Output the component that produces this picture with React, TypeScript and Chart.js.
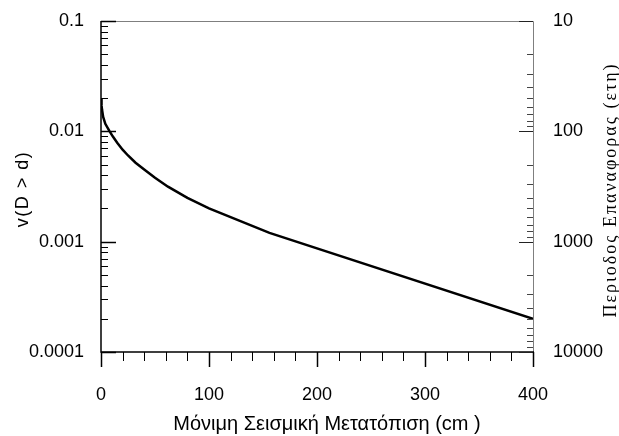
import React, { useEffect, useRef } from "react";
import { Chart, registerables } from "chart.js";

Chart.register(...registerables);

// Data
const displacementCm = [0, 0.5, 1, 2, 4, 8, 11, 15, 20, 25, 32, 40, 50, 62, 80, 100, 156, 400];
const exceedanceRate = [
  0.02, 0.0172, 0.0156, 0.0135, 0.0117, 0.01, 0.00897, 0.00788, 0.00682, 0.00604, 0.00519, 0.0045, 0.00379,
  0.00315, 0.00249, 0.002, 0.0012, 0.0002,
];

// Axis tick values / labels
const xMajorTicks = [0, 100, 200, 300, 400];
const xMinorStep = 20;
const yMajorTicks = [0.0001, 0.001, 0.01, 0.1];
const yMajorLabels = ["0.0001", "0.001", "0.01", "0.1"];
const y2MajorTicks = [10, 100, 1000, 10000];
const y2MajorLabels = ["10", "100", "1000", "10000"];

const xTitle = "Μόνιμη Σεισμική Μετατόπιση (cm )";
const yTitle = "v(D > d)";
const y2Title = "Περιοδος Επαναφορας (ετη)";

const SANS = "'Liberation Sans', Arial, sans-serif";
const SERIF = "'Liberation Serif', 'Times New Roman', serif";

const decorPlugin = {
  id: "decor",
  afterDatasetsDraw(chart: any) {
    const ctx = chart.ctx;
    const { left, right, top, bottom } = chart.chartArea;
    const xs = chart.scales.x;
    const ys = chart.scales.y;
    const y2s = chart.scales.y2;
    ctx.save();
    // top & right border (gray)
    ctx.strokeStyle = "#7f7f7f";
    ctx.lineWidth = 1;
    ctx.beginPath();
    ctx.moveTo(left, top + 0.5);
    ctx.lineTo(right + 0.5, top + 0.5);
    ctx.lineTo(right + 0.5, bottom);
    ctx.stroke();
    // left & bottom border (black)
    ctx.strokeStyle = "#000";
    ctx.lineWidth = 1.5;
    ctx.beginPath();
    ctx.moveTo(left, top);
    ctx.lineTo(left, bottom);
    ctx.lineTo(right + 1, bottom);
    ctx.stroke();

    // left ticks (inward)
    ctx.strokeStyle = "#000";
    for (let e = -4; e <= -1; e++) {
      for (let m = 1; m <= 9; m++) {
        const v = m * Math.pow(10, e);
        if (v > 0.1 + 1e-12) break;
        const py = Math.round(ys.getPixelForValue(v)) + 0.5;
        const len = m === 1 ? 15 : 7;
        ctx.lineWidth = m === 1 ? 1.5 : 1;
        ctx.beginPath();
        ctx.moveTo(left, py);
        ctx.lineTo(left + len, py);
        ctx.stroke();
      }
    }
    // right ticks (inward)
    for (let e = 1; e <= 4; e++) {
      for (let m = 1; m <= 9; m++) {
        const v = m * Math.pow(10, e);
        if (v > 10000 + 1e-9) break;
        const py = Math.round(y2s.getPixelForValue(v)) + 0.5;
        const len = m === 1 ? 14 : 6;
        ctx.lineWidth = 1;
        ctx.strokeStyle = m === 1 ? "#222" : "#444";
        ctx.beginPath();
        ctx.moveTo(right, py);
        ctx.lineTo(right - len, py);
        ctx.stroke();
      }
    }
    // bottom ticks (outward)
    ctx.strokeStyle = "#000";
    for (let d = 0; d <= 400; d += xMinorStep) {
      const px = Math.round(xs.getPixelForValue(d)) + 0.5;
      const major = xMajorTicks.includes(d);
      ctx.lineWidth = major ? 1.5 : 1;
      ctx.beginPath();
      ctx.moveTo(px, bottom);
      ctx.lineTo(px, bottom + (major ? 15 : 9));
      ctx.stroke();
    }

    // titles
    ctx.fillStyle = "#000";
    ctx.textAlign = "center";
    ctx.textBaseline = "alphabetic";
    ctx.font = `20px ${SANS}`;
    ctx.fillText(xTitle, 327, 430);

    ctx.save();
    ctx.translate(28, 189);
    ctx.rotate(-Math.PI / 2);
    ctx.font = `18px ${SANS}`;
    (ctx as any).letterSpacing = "1.5px";
    ctx.fillText(yTitle, 0, 0);
    ctx.restore();

    ctx.save();
    ctx.translate(616, 190);
    ctx.rotate(-Math.PI / 2);
    ctx.font = `18px ${SERIF}`;
    (ctx as any).letterSpacing = "2px";
    ctx.fillText(y2Title, 0, 0);
    ctx.restore();

    ctx.restore();
  },
};

export default function App() {
  const canvasRef = useRef<HTMLCanvasElement | null>(null);
  useEffect(() => {
    const canvas = canvasRef.current;
    if (!canvas) return;
    const points = displacementCm.map((d, i) => ({ x: d, y: exceedanceRate[i] }));
    const tickFont = { family: SANS, size: 18 };
    const chart = new Chart(canvas, {
      type: "line",
      data: {
        datasets: [
          {
            data: points,
            yAxisID: "y",
            xAxisID: "x",
            borderColor: "#000",
            borderWidth: 2.5,
            pointRadius: 0,
            tension: 0,
            fill: false,
          },
        ],
      },
      options: {
        animation: false,
        responsive: true,
        maintainAspectRatio: false,
        layout: { padding: { top: 21, left: 0, right: 0, bottom: 0 } },
        plugins: { legend: { display: false }, tooltip: { enabled: false }, title: { display: false } },
        scales: {
          x: {
            type: "linear",
            position: "bottom",
            min: 0,
            max: 400,
            grid: { display: false, drawTicks: false },
            border: { display: false },
            afterBuildTicks: (s: any) => {
              s.ticks = xMajorTicks.map((v) => ({ value: v }));
            },
            ticks: { font: tickFont, color: "#000", padding: 32, maxRotation: 0, autoSkip: false },
            afterFit: (s: any) => {
              s.height = 84;
              s.paddingLeft = 0;
              s.paddingRight = 0;
            },
          },
          y: {
            type: "logarithmic",
            position: "left",
            min: 0.0001,
            max: 0.1,
            grid: { display: false, drawTicks: false },
            border: { display: false },
            afterBuildTicks: (s: any) => {
              s.ticks = yMajorTicks.map((v) => ({ value: v }));
            },
            ticks: {
              font: tickFont,
              color: "#000",
              padding: 17,
              autoSkip: false,
              callback: (v: any) => {
                const i = yMajorTicks.findIndex((t) => Math.abs(t - Number(v)) / t < 1e-6);
                return i >= 0 ? yMajorLabels[i] : "";
              },
            },
            afterFit: (s: any) => {
              s.width = 101;
              s.paddingTop = 0;
              s.paddingBottom = 0;
            },
          },
          y2: {
            type: "logarithmic",
            position: "right",
            min: 10,
            max: 10000,
            reverse: true,
            grid: { display: false, drawTicks: false },
            border: { display: false },
            afterBuildTicks: (s: any) => {
              s.ticks = y2MajorTicks.map((v) => ({ value: v }));
            },
            ticks: {
              font: tickFont,
              color: "#000",
              padding: 20,
              autoSkip: false,
              callback: (v: any) => {
                const i = y2MajorTicks.findIndex((t) => Math.abs(t - Number(v)) / t < 1e-6);
                return i >= 0 ? y2MajorLabels[i] : "";
              },
            },
            afterFit: (s: any) => {
              s.width = 86;
              s.paddingTop = 0;
              s.paddingBottom = 0;
            },
          },
        },
      } as any,
      plugins: [decorPlugin],
    });
    return () => chart.destroy();
  }, []);
  return (
    <div style={{ position: "fixed", left: 0, top: 0, width: 619, height: 436, background: "#fff" }}>
      <canvas ref={canvasRef} />
    </div>
  );
}
